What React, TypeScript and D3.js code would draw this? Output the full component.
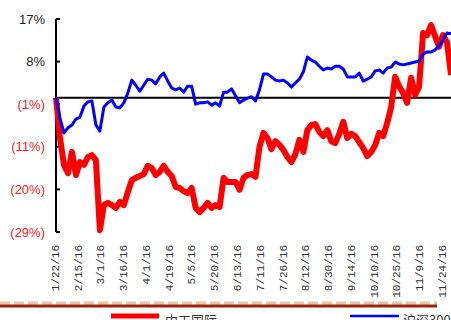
import React from 'react';
import * as d3 from 'd3';

const tickDates = ['1/22/16','2/15/16','3/1/16','3/16/16','4/1/16','4/19/16','5/5/16','5/20/16','6/13/16','7/11/16','7/26/16','8/12/16','8/30/16','9/14/16','10/10/16','10/25/16','11/9/16','11/24/16'];

const seriesNames = ['中工国际', '沪深300'];

// 中工国际 relative return (%)
const zgValues = [
  0.0, -8.7, -14.5, -16.3, -11.7, -16.7, -13.9, -14.5, -12.8, -12.4,
  -13.5, -28.6, -23.2, -22.7, -23.2, -23.8, -22.5, -23.2, -20.4, -17.8,
  -17.3, -16.9, -16.5, -14.7, -15.2, -16.7, -16.0, -14.7, -16.0, -16.9,
  -19.3, -19.5, -20.2, -20.6, -19.5, -23.8, -24.7, -23.8, -22.7, -23.8,
  -23.2, -23.6, -17.3, -18.2, -18.2, -18.2, -19.9, -17.3, -16.7, -16.5,
  -17.1, -10.6, -7.6, -8.7, -11.1, -9.4, -10.2, -11.3, -12.8, -13.9,
  -12.2, -9.1, -11.7, -7.0, -5.9, -5.7, -7.4, -8.3, -7.0, -9.4,
  -9.8, -7.8, -5.2, -8.7, -7.8, -8.3, -9.6, -10.9, -12.6, -11.7,
  -10.2, -7.6, -8.3, -5.5, -2.0, 4.5, 2.5, 1.0, -1.1, 4.3,
  0.6, 2.3, 14.0, 13.5, 15.7, 13.3, 11.0, 13.5, 12.0, 4.9
];

// 沪深300 return (%)
const hsValues = [
  0.0, -4.4, -7.6, -6.5, -5.9, -4.6, -4.2, -1.8, -0.9, -0.7,
  -5.9, -7.2, -2.0, -1.1, -0.5, -2.0, -2.2, -1.1, 1.0, 3.8,
  2.7, 1.4, 2.7, 4.0, 3.8, 3.0, 4.5, 5.3, 3.6, 2.1,
  1.7, 2.1, 1.2, 2.5, 2.5, -1.4, -1.1, -1.1, -0.9, -1.6,
  -1.1, -1.8, 1.2, 1.2, 1.9, 0.4, -1.1, -0.5, -0.1, 0.2,
  -0.7, 1.7, 5.1, 5.1, 4.5, 3.8, 3.6, 3.8, 3.2, 2.3,
  3.2, 4.0, 5.6, 8.8, 8.1, 7.7, 6.8, 6.0, 6.4, 6.2,
  6.8, 6.8, 6.2, 4.5, 4.5, 4.5, 5.3, 3.6, 4.0, 4.5,
  5.8, 6.0, 5.3, 6.4, 6.6, 7.7, 7.3, 7.1, 7.3, 7.5,
  7.7, 7.9, 9.4, 9.9, 9.9, 10.3, 11.2, 12.5, 14.0, 13.8
];

const yTickValues = [17, 7.8, -1.4, -10.6, -19.8, -29];

const W = 451, H = 320;
const left = 56, right = 451, top = 19, bottom = 232;

const fmt = (v: number) => v >= 0 ? `${Math.round(v)}%` : `(${Math.round(-v)}%)`;

export default function App() {
  const x = d3.scaleLinear().domain([0, zgValues.length - 1]).range([left, right]);
  const y = d3.scaleLinear().domain([-29, 17]).range([bottom, top]);
  const xl = d3.scalePoint<string>().domain(tickDates).range([55, 442]);
  const line = d3.line<number>().x((_, i) => x(i)).y(d => y(d));

  return (
    <svg width={W} height={H} style={{ position: 'absolute', left: 0, top: 0, background: '#fff' }}>
      {yTickValues.map((v, i) => (
        <g key={i}>
          <line x1={left} x2={left + 4} y1={y(v)} y2={y(v)} stroke="#000" strokeWidth={2} />
          <text x={45} y={y(v)} dy="0.35em" textAnchor="end" fontFamily="Liberation Sans, Arial, sans-serif" fontSize={13}
            fill={v < 0 ? '#ff2020' : '#222'}>{fmt(v)}</text>
        </g>
      ))}
      <line x1={left} x2={left} y1={top} y2={bottom} stroke="#000" strokeWidth={2} />
      <line x1={left} x2={right} y1={y(0)} y2={y(0)} stroke="#000" strokeWidth={2} />
      <path d={line(zgValues) || ''} fill="none" stroke="#ff0000" strokeWidth={6} strokeLinejoin="round" />
      <path d={line(hsValues) || ''} fill="none" stroke="#0000ff" strokeWidth={3} strokeLinejoin="round" />
      {tickDates.map(d => (
        <text key={d} transform={`translate(${xl(d)},245) rotate(-90)`} dy="0.35em" textAnchor="end"
          fontFamily="Liberation Mono, monospace" fontSize={11} fill="#333">{d}</text>
      ))}
      <line x1={0} x2={437} y1={303} y2={303} stroke="#e6c4a8" strokeWidth={3} strokeDasharray="10,4" />
      <line x1={0} x2={437} y1={306} y2={306} stroke="#9c2408" strokeWidth={3} />
      <line x1={111} x2={159} y1={316} y2={316} stroke="#ff0000" strokeWidth={5} />
      <text x={165} y={325} fontFamily="Noto Sans CJK SC, sans-serif" fontSize={13} fill="#333">{seriesNames[0]}</text>
      <line x1={350} x2={399} y1={316} y2={316} stroke="#0000ff" strokeWidth={2.5} />
      <text x={403} y={325} fontFamily="Noto Sans CJK SC, sans-serif" fontSize={13} fill="#333">{seriesNames[1]}</text>
    </svg>
  );
}
